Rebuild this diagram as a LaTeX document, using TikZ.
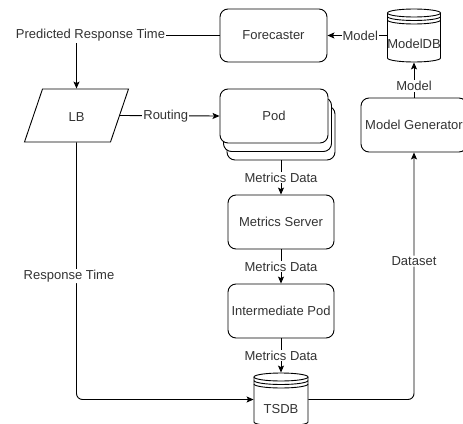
\documentclass[tikz,border=0pt]{standalone}
\usepackage{fontspec}
\setmainfont{Liberation Sans}
\usetikzlibrary{arrows.meta,calc}
\begin{document}
\begin{tikzpicture}[x=1pt,y=-1pt,
  font=\fontsize{13}{15}\selectfont, text=black!80, line width=0.9pt,
  >={Stealth[length=7pt,width=6pt,inset=1.5pt]},
  box/.style={draw, rounded corners=8pt, minimum width=106pt, minimum height=54pt, inner sep=0pt, fill=white},
  ghost/.style={inner sep=0pt, minimum width=#1, minimum height=53pt},
  lbl/.style={fill=white, inner sep=1pt}]
\useasboundingbox (0,0) rectangle (463,423);
\clip (0,0) rectangle (463,423);

% nodes
\node[box, minimum width=107pt, minimum height=53pt] (fc) at (273.5,35.5) {Forecaster};
\node[box, minimum width=108pt] (pod3) at (281,133) {};
\node[box, minimum width=108pt] (pod2) at (277.5,124.5) {};
\node[box, minimum width=108pt] (pod) at (274,116) {Pod};
\node[box] (ms) at (281,222) {Metrics Server};
\node[box] (ip) at (281,311) {Intermediate Pod};
\node[box] (mg) at (414,125) {Model Generator};

% LB parallelogram
\node[ghost=86pt] (lb) at (76.5,115.5) {};
\begin{scope}[shift={(lb.center)}]
  \draw[fill=white] (-34,-26.5) -- (52,-26.5) -- (34,26.5) -- (-52,26.5) -- cycle;
\end{scope}
\node (lbtext) at (76.5,117) {LB};

% ModelDB cylinder
\node[ghost=53pt] (db) at (414,35.5) {};
\begin{scope}[shift={(db.center)}]
  \draw[fill=white] (-26.5,-22.5) -- (-26.5,22.5) arc[start angle=180,end angle=0,x radius=26.5,y radius=4] -- (26.5,-22.5);
  \draw (0,-22.5) ellipse [x radius=26.5, y radius=4];
  \draw (-26.5,-19) arc[start angle=180,end angle=0,x radius=26.5,y radius=4];
  \draw (-26.5,-15.5) arc[start angle=180,end angle=0,x radius=26.5,y radius=4];
\end{scope}
\node[inner sep=0pt] (dbtext) at (414,44) {ModelDB};

% TSDB cylinder
\node[ghost=54pt] (tsdb) at (281,399.5) {};
\begin{scope}[shift={(tsdb.center)}]
  \draw[fill=white] (-27,-22.5) -- (-27,22.5) arc[start angle=180,end angle=0,x radius=27,y radius=4] -- (27,-22.5);
  \draw (0,-22.5) ellipse [x radius=27, y radius=4];
  \draw (-27,-19) arc[start angle=180,end angle=0,x radius=27,y radius=4];
  \draw (-27,-15.5) arc[start angle=180,end angle=0,x radius=27,y radius=4];
\end{scope}
\node (tsdbtext) at (281,409) {TSDB};

% edges
\draw[->] (db.west) -- node[lbl, pos=0.45] {Model} (fc.east);
\draw[->] (fc.west) -| node[lbl, pos=0.5, xshift=14pt] {Predicted Response Time} (lb.north);
\draw[->] (lb.east) -- node[lbl, pos=0.46] {Routing} (pod.west);
\draw[->] (pod3.south) -- node[lbl] {Metrics Data} (ms.north);
\draw[->] (ms.south) -- node[lbl] {Metrics Data} (ip.north);
\draw[->] (ip.south) -- node[lbl] {Metrics Data} (tsdb.north);
\draw[->, rounded corners=6pt] (lb.south) |- node[lbl, pos=0.26, xshift=-7.5pt] {Response Time} (tsdb.west);
\draw[->, rounded corners=6pt] (tsdb.east) -| node[lbl, pos=0.78] {Dataset} (mg.south);
\draw[->] (mg.north) -- node[lbl, pos=0.33] {Model} (db.south);
\end{tikzpicture}
\end{document}
